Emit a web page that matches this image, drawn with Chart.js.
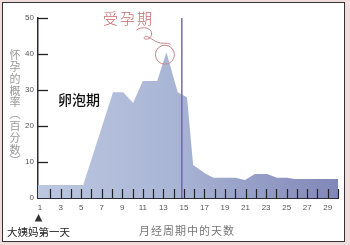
<!DOCTYPE html>
<html>
<head>
<meta charset="utf-8">
<script src="https://cdn.jsdelivr.net/npm/chart.js@4"></script>
<style>
  html, body { margin: 0; padding: 0; }
  body { width: 350px; height: 245px; background: #f0dcdc; position: relative; overflow: hidden; }
  #frame { position: absolute; left: 2px; top: 2px; width: 341px; height: 238px; background: #fff; border: 1.5px solid #333; }
  #chart { position: absolute; left: 0; top: 0; }
</style>
</head>
<body>
<div id="frame"></div>
<canvas id="chart" width="350" height="245"></canvas>
<script>
// day of cycle and chance of conception (%)
const days = [0.8, 5.2, 8.1, 9.1, 10.05, 11.0, 12.4, 13.3, 14.4, 15.3, 15.9, 17.05, 17.85, 20.0, 20.95, 21.9, 23.1, 24.05, 25.05, 25.8, 30];
const chances = [3.6, 3.6, 29.4, 29.4, 26.4, 32.5, 32.5, 40.5, 29.4, 28, 9.2, 6.9, 5.6, 5.6, 5.0, 6.7, 6.7, 5.6, 5.6, 5.3, 5.3];

const dayLabels = [1, 3, 5, 7, 9, 11, 13, 15, 17, 19, 21, 23, 25, 27, 29];
const yTicks = [0, 10, 20, 30, 40, 50];
const ovulationDay = 14.8;
const peakDay = 13.3;

const yTitle = ['怀', '孕', '的', '概', '率', '︵', '百', '分', '数', '︶'];

const CJK = '"Noto Sans CJK SC", sans-serif';
const NUM = '"Liberation Sans", Arial, sans-serif';

// ticks point inward, plus the notes and marks around the area
const decorations = {
  id: 'decorations',
  afterDatasetsDraw(chart) {
    const { ctx, chartArea, scales: { x, y } } = chart;
    ctx.save();

    // x ticks
    ctx.strokeStyle = '#222';
    ctx.lineWidth = 1.2;
    for (let d = 2; d <= 30; d++) {
      const px = Math.round(x.getPixelForValue(d)) + 0.5;
      ctx.beginPath();
      ctx.moveTo(px, chartArea.bottom - 9);
      ctx.lineTo(px, chartArea.bottom);
      ctx.stroke();
    }
    // y ticks
    ctx.lineWidth = 1.3;
    yTicks.slice(1).forEach(v => {
      const py = Math.round(y.getPixelForValue(v)) + 0.5;
      ctx.beginPath();
      ctx.moveTo(chartArea.left, py);
      ctx.lineTo(chartArea.left + 10, py);
      ctx.stroke();
    });

    // ovulation line
    const ox = x.getPixelForValue(ovulationDay);
    ctx.strokeStyle = '#6c62a8';
    ctx.lineWidth = 1.4;
    ctx.beginPath();
    ctx.moveTo(ox, y.getPixelForValue(50));
    ctx.lineTo(ox, chartArea.bottom);
    ctx.stroke();

    // circle and swirl around the peak
    const px = x.getPixelForValue(peakDay);
    const py = y.getPixelForValue(chances[days.indexOf(peakDay)]);
    ctx.strokeStyle = '#c98585';
    ctx.lineWidth = 1;
    ctx.beginPath();
    ctx.arc(px - 1.5, py + 2.5, 9.5, 0, Math.PI * 2);
    ctx.stroke();
    ctx.beginPath();
    ctx.moveTo(px - 30, py - 22);
    ctx.bezierCurveTo(px - 24, py - 27, px - 13, py - 24, px - 15, py - 17);
    ctx.bezierCurveTo(px - 16, py - 12, px - 24, py - 12, px - 22, py - 15);
    ctx.bezierCurveTo(px - 20, py - 18, px - 14, py - 12, px - 9, py - 10);
    ctx.bezierCurveTo(px - 5, py - 8, px, py - 10, px + 4, py - 8);
    ctx.stroke();

    // texts
    ctx.textBaseline = 'middle';
    ctx.fillStyle = '#c76c6c';
    ctx.font = '300 15px ' + CJK;
    ctx.textAlign = 'left';
    ctx.letterSpacing = '2px';
    ctx.fillText('受孕期', 103, 18);
    ctx.letterSpacing = '0px';

    ctx.fillStyle = '#111';
    ctx.font = '500 14px ' + CJK;
    ctx.fillText('卵泡期', 58, 100);

    ctx.fillStyle = '#999';
    ctx.font = '11px ' + CJK;
    ctx.textAlign = 'center';
    yTitle.forEach((c, i) => ctx.fillText(c, 15, 55 + i * 11.8));

    // first-day marker
    const tx = x.getPixelForValue(1) - 1.5;
    ctx.fillStyle = '#333';
    ctx.beginPath();
    ctx.moveTo(tx, 214);
    ctx.lineTo(tx - 3.8, 221.5);
    ctx.lineTo(tx + 3.8, 221.5);
    ctx.closePath();
    ctx.fill();

    ctx.fillStyle = '#222';
    ctx.font = '10.5px ' + CJK;
    ctx.textAlign = 'left';
    ctx.fillText('大姨妈第一天', 7, 232);

    ctx.fillStyle = '#777';
    ctx.font = '11px ' + CJK;
    ctx.textAlign = 'center';
    ctx.letterSpacing = '1px';
    ctx.fillText('月经周期中的天数', 187, 231);

    ctx.restore();
  }
};

new Chart(document.getElementById('chart'), {
  type: 'line',
  data: {
    datasets: [{
      data: days.map((d, i) => ({ x: d, y: chances[i] })),
      fill: 'origin',
      borderWidth: 0,
      pointRadius: 0,
      tension: 0,
      backgroundColor: (c) => {
        const a = c.chart.chartArea;
        if (!a) return '#a8b4d4';
        const g = c.chart.ctx.createLinearGradient(a.left, 0, a.right, 0);
        g.addColorStop(0, '#bcc8e0');
        g.addColorStop(0.45, '#a9b5d5');
        g.addColorStop(1, '#8187b8');
        return g;
      }
    }]
  },
  options: {
    responsive: false,
    animation: false,
    layout: { padding: { top: 18, right: 12, left: 0, bottom: 0 } },
    plugins: { legend: { display: false }, tooltip: { enabled: false } },
    scales: {
      x: {
        type: 'linear',
        min: 0.8,
        max: 30,
        afterBuildTicks: (s) => { s.ticks = dayLabels.map(v => ({ value: v })); },
        afterFit: (s) => { s.height = 47; },
        grid: { drawOnChartArea: false, drawTicks: false },
        border: { display: true, color: '#2a2a35', width: 2 },
        ticks: { padding: 5, color: '#555', font: { family: NUM, size: 8 }, maxRotation: 0, autoSkip: false }
      },
      y: {
        min: 0,
        max: 50,
        afterBuildTicks: (s) => { s.ticks = yTicks.map(v => ({ value: v })); },
        afterFit: (s) => { s.width = 38; },
        grid: { drawOnChartArea: false, drawTicks: false },
        border: { display: true, color: '#2a2a35', width: 1.5 },
        ticks: { padding: 4, color: '#555', font: { family: NUM, size: 8 } }
      }
    }
  },
  plugins: [decorations]
});
</script>
</body>
</html>
